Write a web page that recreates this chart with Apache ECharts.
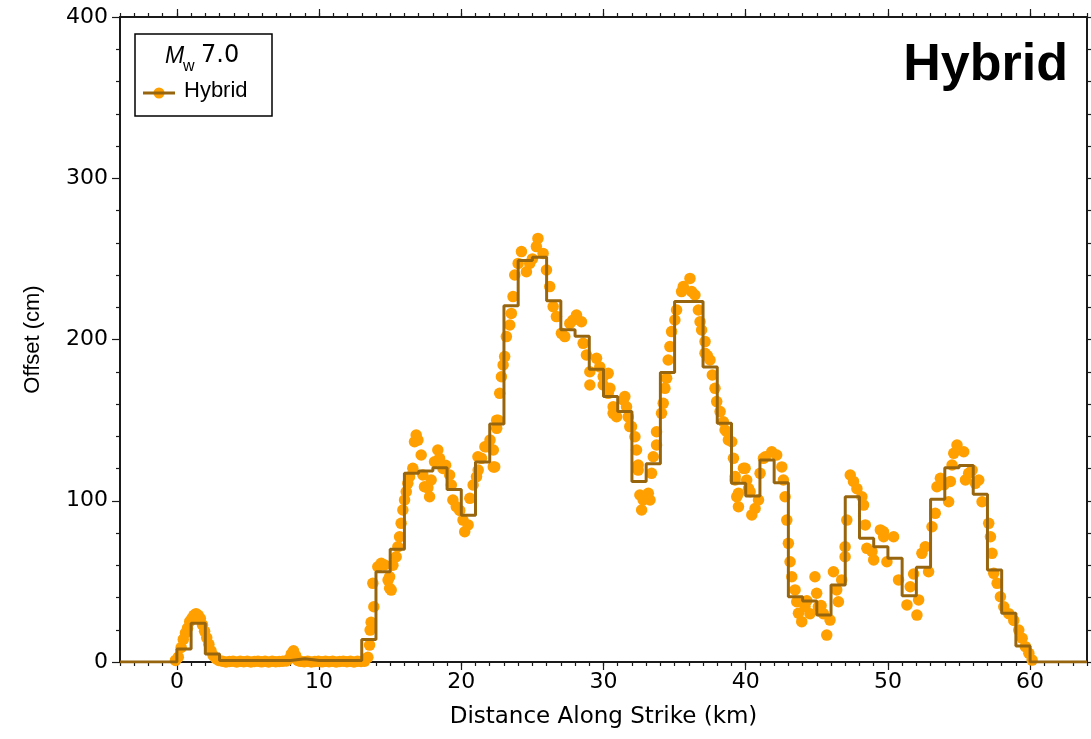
<!DOCTYPE html>
<html>
<head>
<meta charset="utf-8">
<script src="https://cdn.jsdelivr.net/npm/echarts@6/dist/echarts.min.js"></script>
<style>
  html, body { margin: 0; padding: 0; background: #fff; }
  #chart { width: 1091px; height: 739px; }
</style>
</head>
<body>
<div id="chart"></div>
<script>
// Step model: [bin start (km), offset (cm)], last entry closes the final bin
const stepBins = [
  [-4, 0], [-3, 0], [-2, 0], [-1, 0],
  [0, 8], [1, 24], [2, 5],
  [3, 1], [4, 1], [5, 1], [6, 1], [7, 1], [8, 2], [9, 1], [10, 1], [11, 1], [12, 1],
  [13, 14], [14, 56], [15, 70], [16, 117], [17, 118.5], [18, 120.5], [19, 107], [20, 91],
  [21, 124], [22, 147.6], [23, 221], [24, 249], [25, 251], [26, 224], [27, 206], [28, 202],
  [29, 181.5], [30, 164.6], [31, 155.3], [32, 112], [33, 123], [34, 179.6], [35, 223.5],
  [36, 223.5], [37, 183], [38, 148], [39, 110.8], [40, 103], [41, 125.3], [42, 111.2],
  [43, 40.5], [44, 37.8], [45, 29.1], [46, 47.8], [47, 102.5], [48, 76.7], [49, 71.5],
  [50, 64.3], [51, 41.1], [52, 58.7], [53, 101], [54, 120.5], [55, 121.8], [56, 104],
  [57, 57], [58, 30.2], [59, 9.9], [60, 0], [61, 0], [62, 0], [63, 0], [64, 0]
];

// Surface offset measurements: [distance (km), offset (cm)]
const obsPoints = [
  [-0.1, 1], [0.1, 3], [0.3, 9], [0.45, 14], [0.6, 18], [0.75, 21], [0.9, 25], [1.05, 27],
  [1.2, 29], [1.35, 30], [1.5, 29], [1.65, 27], [1.8, 23], [1.95, 19], [2.1, 15], [2.25, 11],
  [2.4, 7], [2.55, 4], [2.75, 2], [2.95, 1],
  [3.2, 0.5], [3.45, 0], [3.7, 0.3], [3.95, 0.5], [4.2, 0], [4.45, 0.4], [4.7, 0.2], [4.95, 0.5],
  [5.2, 0], [5.45, 0.3], [5.7, 0.5], [5.95, 0.1], [6.2, 0.4], [6.45, 0], [6.7, 0.5], [6.95, 0.2],
  [7.2, 0.3], [7.45, 0.5], [7.7, 0.6], [7.9, 2], [8.05, 5], [8.2, 7], [8.35, 4], [8.5, 1],
  [8.7, 0.4], [8.95, 0.2], [9.2, 0.5], [9.45, 0], [9.7, 0.3], [9.95, 0.5], [10.2, 0.1],
  [10.45, 0.4], [10.7, 0.2], [10.95, 0.5], [11.2, 0], [11.45, 0.3], [11.7, 0.5], [11.95, 0.2],
  [12.2, 0.4], [12.45, 0], [12.7, 0.5], [12.95, 0.3], [13.2, 0.5],
  [13.43, 2.9], [13.55, 10.5], [13.59, 19.8], [13.66, 24.6], [13.78, 48.8], [13.85, 34.3],
  [14.13, 59.1], [14.37, 61.2], [14.6, 60.2], [14.85, 50.8], [14.96, 52.9], [14.96, 45.7],
  [15.07, 44.6], [15.19, 60], [15.42, 65.3], [15.54, 71.5], [15.66, 77.7], [15.77, 86],
  [15.89, 94.3], [16.01, 100.5], [16.13, 105.6], [16.24, 110.8], [16.36, 114.9], [16.59, 120.1],
  [16.71, 136.6], [16.83, 140.8], [16.95, 137.6], [17.18, 128.4], [17.3, 116], [17.41, 108.7],
  [17.65, 108], [17.77, 102.5], [17.88, 112.9], [18.12, 124.2], [18.35, 131.5], [18.47, 126.3],
  [18.71, 120], [18.9, 122], [19.18, 116], [19.3, 109.8], [19.41, 100.5], [19.65, 96.3],
  [19.89, 94], [20.12, 88], [20.24, 80.8], [20.48, 85], [20.6, 101.5], [20.83, 109.8],
  [21.07, 114.9], [21.17, 127.3], [21.19, 119], [21.42, 126.3], [21.66, 133.5], [21.76, 133.5],
  [22.02, 137.6], [22.25, 131.5], [22.25, 121], [22.35, 121], [22.49, 144.9], [22.49, 150],
  [22.59, 150], [22.7, 166.6], [22.82, 176.9], [22.94, 184.2], [23.05, 189.4], [23.17, 201.8],
  [23.41, 209], [23.52, 216.2], [23.64, 226.6], [23.76, 240], [24.0, 247.2], [24.23, 254.5],
  [24.58, 242], [24.81, 247.2], [25.0, 250], [25.28, 257.6], [25.39, 262.7], [25.75, 253.4],
  [25.99, 243.1], [26.22, 232.8], [26.46, 220.4], [26.69, 214.2], [27.04, 203.8], [27.28, 201.8],
  [27.63, 210], [27.85, 212], [28.1, 215.2], [28.45, 211], [28.57, 197.6], [28.8, 190.4],
  [29.04, 180], [29.04, 171.8], [29.51, 188.3], [29.74, 183], [29.98, 177], [29.98, 171.8],
  [30.33, 179], [30.33, 166.6], [30.45, 169.7], [30.68, 158.3], [30.68, 154.2], [30.92, 152.1],
  [31.39, 162.5], [31.5, 164.6], [31.62, 158.3], [31.74, 152], [31.85, 146], [31.97, 146],
  [32.21, 139.7], [32.32, 131.5], [32.44, 122.2], [32.44, 119], [32.56, 103.6], [32.68, 94.3],
  [32.79, 100.5], [33.15, 104.6], [33.27, 100.5], [33.38, 117], [33.5, 127.3], [33.73, 134.6],
  [33.73, 142.8], [34.08, 154.2], [34.2, 160.4], [34.32, 169.7], [34.44, 176], [34.55, 187.3],
  [34.67, 195.6], [34.79, 204.9], [35.02, 212.1], [35.14, 218.3], [35.49, 229.7], [35.61, 232.8],
  [36.08, 237.9], [36.2, 229.7], [36.43, 227.6], [36.67, 218.3], [36.79, 211], [36.9, 205.9],
  [37.14, 198.7], [37.14, 191.5], [37.3, 190], [37.49, 187.3], [37.65, 178], [37.84, 169.7],
  [37.96, 161.5], [38.2, 155.3], [38.43, 149], [38.55, 143.9], [38.67, 142.8], [38.78, 137.7],
  [39.02, 136.6], [39.14, 126.3], [39.25, 112.9], [39.26, 115], [39.37, 102.5], [39.49, 96.3],
  [39.49, 104.6], [39.84, 120.1], [39.96, 120.1], [40.07, 112.9], [40.2, 107.6], [40.31, 105.6],
  [40.43, 91.2], [40.66, 95.2], [40.9, 100.5], [41.01, 117], [41.25, 126.3], [41.38, 127.3],
  [41.83, 130.4], [42.18, 128.4], [42.54, 121], [42.65, 112.9], [42.77, 102.5], [42.89, 88],
  [43.0, 73.6], [43.12, 62.2], [43.24, 52.9], [43.47, 44.7], [43.59, 37.4], [43.71, 30.2],
  [43.94, 25], [44.17, 34.3], [44.3, 38], [44.52, 30], [44.87, 52.9], [44.99, 42.6],
  [45.11, 34.3], [45.3, 35], [45.46, 30], [45.7, 16.7], [45.93, 26], [46.17, 56], [46.4, 44.7],
  [46.52, 37.4], [46.75, 50.9], [46.99, 65.3], [46.99, 71.5], [47.11, 88], [47.35, 116],
  [47.58, 112], [47.82, 107.5], [48.17, 102.5], [48.29, 97.3], [48.41, 85], [48.52, 70.5],
  [48.88, 68.5], [49.0, 63.3], [49.47, 81.9], [49.69, 80.8], [49.7, 77.7], [49.93, 62.2],
  [50.4, 77.7], [50.75, 50.9], [51.34, 35.4], [51.57, 46.7], [51.81, 54.6], [52.04, 29.1],
  [52.16, 38.5], [52.39, 67.4], [52.63, 71.5], [52.86, 56], [53.1, 83.9], [53.33, 92.2],
  [53.45, 108.7], [53.69, 113.9], [53.95, 110], [54.27, 99.4], [54.39, 112], [54.51, 122.2],
  [54.63, 129.4], [54.86, 134.6], [55.33, 130.4], [55.45, 112.9], [55.68, 117], [55.92, 119],
  [56.15, 110.8], [56.39, 112.9], [56.62, 99.4], [57.09, 86], [57.21, 77.7], [57.32, 67.4],
  [57.44, 55], [57.68, 48.8], [57.91, 40.5], [58.15, 34.3], [58.5, 30], [58.85, 25.8],
  [59.2, 19.8], [59.44, 14.7], [59.67, 9.5], [59.91, 5.4], [60.14, 1.2]
];

const xMajorTicks = [0, 10, 20, 30, 40, 50, 60];
const xRange = [-4, 64];
const yRange = [0, 400];

const seriesName = 'Hybrid';
const panelTitle = 'Hybrid';
const magnitudeLabel = '7.0';

const dotColor = '#ffa000';
const stepColor = '#98650f';
const axisColor = '#1a1a1a';
const tickFont = 'DejaVu Sans';

const chart = echarts.init(document.getElementById('chart'), null, { renderer: 'canvas' });

const gridBox = { left: 120, right: 4, top: 17, bottom: 77 };

// Major x ticks (with labels on the bottom) live on grid 0
function majorX(position, showLabels) {
  return {
    type: 'value', gridIndex: 0, position: position, min: xRange[0], max: xRange[1],
    axisLine: { show: true, onZero: false, lineStyle: { color: axisColor, width: 2 } },
    axisTick: { show: true, customValues: xMajorTicks, length: 8, lineStyle: { color: axisColor, width: 1.2 } },
    axisLabel: {
      show: showLabels, customValues: xMajorTicks, margin: 9,
      fontFamily: tickFont, fontSize: 22, color: '#000'
    },
    splitLine: { show: false }
  };
}
// Minor (1 km) x ticks live on an overlaid grid 1
function minorX(position) {
  return {
    type: 'value', gridIndex: 1, position: position, min: xRange[0], max: xRange[1], interval: 1,
    axisLine: { show: false, onZero: false },
    axisTick: { show: true, length: 4, lineStyle: { color: axisColor, width: 1.2 } },
    axisLabel: { show: false },
    splitLine: { show: false }
  };
}
function yAxisAt(position, showLabels) {
  return {
    type: 'value', gridIndex: 0, position: position, min: yRange[0], max: yRange[1], interval: 100,
    axisLine: { show: true, onZero: false, lineStyle: { color: axisColor, width: 2 } },
    axisTick: { show: true, length: 8, lineStyle: { color: axisColor, width: 1.2 } },
    minorTick: { show: true, splitNumber: 5, length: 4, lineStyle: { color: axisColor, width: 1.2 } },
    axisLabel: { show: showLabels, margin: 12, fontFamily: tickFont, fontSize: 22, color: '#000' },
    splitLine: { show: false },
    minorSplitLine: { show: false }
  };
}
function hiddenY() {
  return {
    type: 'value', gridIndex: 1, min: yRange[0], max: yRange[1],
    axisLine: { show: false }, axisTick: { show: false },
    axisLabel: { show: false }, splitLine: { show: false }
  };
}

const xBottom = majorX('bottom', true);
xBottom.name = 'Distance Along Strike (km)';
xBottom.nameLocation = 'middle';
xBottom.nameGap = 44;
xBottom.nameTextStyle = { fontFamily: tickFont, fontSize: 23, color: '#000' };

const yLeft = yAxisAt('left', true);
yLeft.name = 'Offset (cm)';
yLeft.nameLocation = 'middle';
yLeft.nameGap = 76;
yLeft.nameTextStyle = { fontFamily: 'Liberation Sans', fontSize: 22, color: '#000' };

const option = {
  animation: false,
  backgroundColor: '#fff',
  grid: [Object.assign({}, gridBox), Object.assign({}, gridBox)],
  xAxis: [xBottom, majorX('top', false), minorX('bottom'), minorX('top')],
  yAxis: [yLeft, yAxisAt('right', false), hiddenY()],
  series: [
    {
      name: seriesName + ' points', type: 'scatter',
      xAxisIndex: 0, yAxisIndex: 0,
      data: obsPoints, symbol: 'circle', symbolSize: 11.5,
      itemStyle: { color: dotColor, opacity: 1 },
      clip: true, z: 2
    },
    {
      name: seriesName, type: 'line', step: 'end',
      xAxisIndex: 0, yAxisIndex: 0,
      data: stepBins, showSymbol: false,
      lineStyle: { color: stepColor, width: 3 },
      clip: true, z: 3
    }
  ],
  graphic: [
    {
      type: 'rect', z: 10,
      shape: { x: 135, y: 34, width: 137, height: 82 },
      style: { fill: '#fff', stroke: '#000', lineWidth: 1.5 }
    },
    {
      type: 'text', z: 11, left: 165, top: 45,
      style: { text: 'M', font: 'italic 23px "Liberation Sans"', fill: '#000' }
    },
    {
      type: 'text', z: 11, left: 183, top: 59,
      style: { text: 'w', font: '16px "Liberation Sans"', fill: '#000' }
    },
    {
      type: 'text', z: 11, left: 201, top: 44,
      style: { text: magnitudeLabel, font: '24px "DejaVu Sans"', fill: '#000' }
    },
    {
      type: 'line', z: 11,
      shape: { x1: 143, y1: 93, x2: 175, y2: 93 },
      style: { stroke: stepColor, lineWidth: 3 }
    },
    {
      type: 'circle', z: 10,
      shape: { cx: 159, cy: 93, r: 5.5 },
      style: { fill: dotColor }
    },
    {
      type: 'text', z: 11, left: 184, top: 80,
      style: { text: seriesName, font: '22px "Liberation Sans"', fill: '#000' }
    },
    {
      type: 'text', z: 11, right: 23, top: 40,
      style: { text: panelTitle, font: 'bold 52px "Liberation Sans"', fill: '#000' }
    }
  ]
};

chart.setOption(option);
</script>
</body>
</html>
